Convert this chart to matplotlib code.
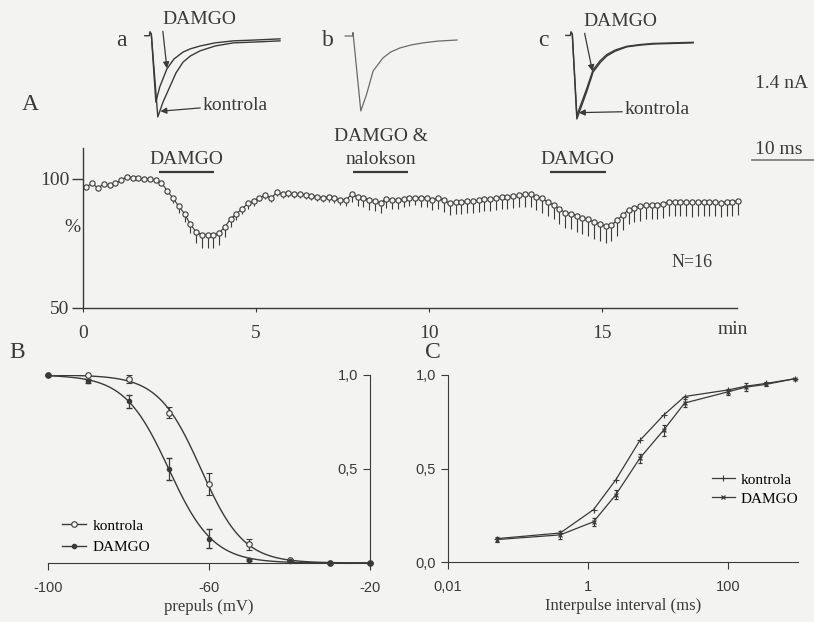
import numpy as np
import matplotlib.pyplot as plt
from matplotlib.lines import Line2D

plt.rcParams['font.family'] = ['Liberation Serif', 'DejaVu Serif']

W, H = 814, 622
INK = '#3a3a3a'
BG = '#f3f3f1'

# ==============================================================================
# DATA
# ==============================================================================
# A (top): example currents, time in ms, current in nA
trace_a_ctrl_t = [-0.8, -0.1, 0.0, 0.2, 1.2, 2.0, 3.1, 4.0, 5.1, 6.2, 7.7, 10.0, 12.8, 16.2, 20.0]
trace_a_ctrl_i = [-0.06, -0.06, 0.08, 0.0, -2.9, -2.38, -1.82, -1.36, -0.98, -0.77, -0.59, -0.42, -0.31, -0.28, -0.24]
trace_a_damgo_t = [0.2, 0.9, 1.5, 2.6, 3.7, 5.1, 6.2, 7.7, 10.0, 12.8, 16.2, 20.0]
trace_a_damgo_i = [0.0, -2.38, -1.85, -1.22, -0.87, -0.63, -0.52, -0.42, -0.31, -0.24, -0.21, -0.17]

trace_b_t = [-1.2, -0.1, 0.0, 1.2, 2.1, 3.1, 4.6, 5.8, 7.2, 9.0, 10.8, 13.0, 16.0]
trace_b_i = [-0.07, -0.07, 0.05, -2.69, -2.10, -1.29, -0.84, -0.63, -0.49, -0.38, -0.31, -0.25, -0.21]

trace_c_ctrl_t = [-0.8, -0.1, 0.0, 0.2, 0.9, 2.4, 3.4, 4.5, 5.5, 6.8, 8.6, 10.6, 12.6, 18.8]
trace_c_ctrl_i = [-0.05, -0.05, 0.08, 0.0, -2.97, -2.03, -1.33, -1.0, -0.77, -0.60, -0.45, -0.39, -0.35, -0.31]
trace_c_damgo_t = [0.2, 0.9, 2.4, 3.4, 4.5, 5.5, 6.8, 8.6, 10.6, 12.6, 18.8]
trace_c_damgo_i = [0.0, -2.85, -1.92, -1.25, -0.93, -0.72, -0.56, -0.43, -0.37, -0.33, -0.29]

# A (bottom): amplitude time course, one point every 10 s starting at 0.1 min
t0_min = 0.1
dt_min = 1 / 6
amp_pct = [
    97.0, 98.3, 96.4, 98.2, 97.5, 98.3,
    99.6, 100.8, 100.5, 100.2, 100.0, 100.0,
    99.6, 98.5, 95.5, 92.5, 89.5, 86.5,
    82.5, 79.5, 78.3, 78.2, 78.3, 79.0,
    81.5, 84.5, 86.5, 88.5, 90.5, 91.5,
    92.8, 93.8, 92.5, 94.8, 94.0, 94.5,
    94.0, 94.2, 93.8, 93.5, 93.1, 92.8,
    93.0, 92.5, 91.8, 92.0, 94.0, 93.0,
    92.5, 91.8, 91.5, 90.8, 92.4, 91.8,
    91.8, 92.1, 92.5, 92.8, 92.8, 92.8,
    91.8, 92.5, 91.8, 90.5, 91.0, 91.0,
    91.4, 91.4, 91.8, 92.1, 92.1, 92.5,
    92.9, 92.9, 93.3, 93.6, 94.1, 94.0,
    93.0, 92.5, 91.0, 89.9, 88.4, 87.0,
    86.5, 85.8, 85.0, 84.3, 83.3, 82.5,
    81.8, 82.0, 84.0, 86.1, 88.0, 88.9,
    89.4, 89.8, 90.0, 90.0, 90.3, 91.2,
    91.0, 91.0, 91.0, 90.9, 91.0, 91.2,
    91.0, 91.0, 90.8, 91.0, 91.2, 91.5,
]
amp_err = [
    0.3, 0.3, 0.3, 0.3, 0.3, 0.3,
    0.3, 0.3, 0.3, 0.3, 0.3, 0.3,
    0.5, 1.0, 1.5, 2.0, 2.5, 3.0,
    3.5, 4.5, 5.0, 5.0, 5.0, 4.5,
    4.0, 3.0, 2.5, 2.0, 2.0, 1.8,
    1.5, 1.5, 1.5, 1.5, 1.5, 1.5,
    1.5, 1.5, 1.5, 1.5, 1.5, 1.8,
    1.8, 2.0, 2.0, 2.5, 3.0, 3.5,
    3.5, 4.0, 4.0, 4.0, 3.5, 3.5,
    3.5, 3.0, 3.0, 3.0, 3.5, 3.5,
    4.0, 4.0, 4.5, 4.5, 4.5, 4.5,
    4.5, 4.5, 4.5, 4.5, 4.5, 4.5,
    4.5, 4.5, 4.5, 4.5, 5.0, 5.0,
    5.0, 5.5, 5.5, 5.5, 6.0, 6.0,
    6.0, 6.5, 6.5, 6.5, 6.5, 6.5,
    6.5, 6.0, 6.0, 6.0, 5.5, 5.5,
    5.5, 5.5, 5.5, 5.5, 5.5, 5.5,
    5.5, 5.5, 5.5, 5.5, 5.5, 5.5,
    5.5, 5.5, 5.5, 5.5, 5.5, 5.5,
]
drug_labels = ['DAMGO', 'DAMGO &\nnalokson', 'DAMGO']
drug_start = [2.2, 7.8, 13.5]
drug_end = [3.8, 9.4, 15.1]

# B: steady-state inactivation
prepulse_mv = [-100, -90, -80, -70, -60, -50, -40, -30, -20]
inact_ctrl = [1.0, 1.0, 0.98, 0.80, 0.42, 0.10, 0.015, 0.0, 0.0]
inact_ctrl_err = [0, 0, 0.02, 0.03, 0.06, 0.03, 0.005, 0, 0]
inact_damgo = [1.0, 0.97, 0.86, 0.50, 0.13, 0.015, 0.01, 0.0, 0.0]
inact_damgo_err = [0, 0.01, 0.035, 0.06, 0.05, 0.005, 0, 0, 0]
# Boltzmann fit parameters (V1/2, slope)
fit_ctrl = (-62.0, 5.3)
fit_damgo = (-70.0, 5.5)

# C: recovery from inactivation
interval_ms = [0.05, 0.4, 1.2, 2.5, 5.5, 12, 24, 100, 180, 350, 900]
recov_ctrl = [0.125, 0.155, 0.28, 0.44, 0.65, 0.785, 0.885, 0.92, 0.94, 0.955, 0.98]
recov_damgo = [0.12, 0.145, 0.215, 0.36, 0.555, 0.705, 0.85, 0.91, 0.935, 0.95, 0.98]
recov_damgo_err = [0.012, 0.02, 0.02, 0.025, 0.025, 0.03, 0.02, 0.015, 0.02, 0.01, 0.0]


# ==============================================================================
# HELPERS
# ==============================================================================
def add_ax(left, top, right, bottom):
    # box given in image pixels (origin top-left)
    return fig.add_axes([left / W, 1 - bottom / H, (right - left) / W, (bottom - top) / H])


def ftext(x, y, s, **kw):
    fig.text(x / W, 1 - y / H, s, **kw)


fig = plt.figure(figsize=(W / 100, H / 100), dpi=100, facecolor=BG)

# ==============================================================================
# A: CURRENT TRACES
# ==============================================================================
PX_MS = 6.5
PX_NA = 28.6


def trace_ax(x0, y0):
    ax = add_ax(x0 - 2 * PX_MS, y0 - 0.5 * PX_NA, x0 + 21 * PX_MS, y0 + 3.3 * PX_NA)
    ax.set_xlim(-2, 21)
    ax.set_ylim(-3.3, 0.5)
    ax.axis('off')
    ax.patch.set_alpha(0)
    return ax


arrow = dict(arrowstyle='-|>', lw=0.9, color=INK, shrinkA=0, shrinkB=0,
             mutation_scale=9, relpos=(0, 0.3))

ax_a = trace_ax(150, 34)
ax_a.plot(trace_a_ctrl_t, trace_a_ctrl_i, color=INK, lw=1.0)
ax_a.plot(trace_a_damgo_t, trace_a_damgo_i, color=INK, lw=1.0)
ax_a.annotate('DAMGO', xy=(2.6, -1.2), xytext=(162, H - 20), textcoords='figure pixels',
              fontsize=14, ha='left', va='center', color=INK, arrowprops=arrow)
ax_a.annotate('kontrola', xy=(1.6, -2.7), xytext=(203, H - 106), textcoords='figure pixels',
              fontsize=14, ha='left', va='center', color=INK,
              arrowprops=dict(arrow, relpos=(0, 0.4)))

ax_b = trace_ax(353, 34)
ax_b.plot(trace_b_t, trace_b_i, color='#6a6a6a', lw=0.9)

ax_c = trace_ax(571, 34)
ax_c.plot(trace_c_ctrl_t, trace_c_ctrl_i, color=INK, lw=1.0)
ax_c.plot(trace_c_damgo_t, trace_c_damgo_i, color=INK, lw=1.0)
ax_c.annotate('DAMGO', xy=(3.3, -1.3), xytext=(583, H - 22), textcoords='figure pixels',
              fontsize=14, ha='left', va='center', color=INK, arrowprops=arrow)
ax_c.annotate('kontrola', xy=(1.2, -2.75), xytext=(625, H - 110), textcoords='figure pixels',
              fontsize=14, ha='left', va='center', color=INK,
              arrowprops=dict(arrow, relpos=(0, 0.4)))

for s, x in [('a', 121), ('b', 328), ('c', 543)]:
    ftext(x, 40, s, fontsize=17, ha='center', va='center', color=INK)

ftext(782, 84, '1.4 nA', fontsize=14, ha='center', va='center', color=INK)
ftext(779, 150, '10 ms', fontsize=14, ha='center', va='center', color=INK)
fig.add_artist(Line2D([752 / W, 1.0], [1 - 160 / H, 1 - 160 / H], color='#777', lw=1.2))

# ==============================================================================
# A: TIME COURSE
# ==============================================================================
axA = add_ax(83, 148, 737, 308)
t_min = t0_min + np.arange(len(amp_pct)) * dt_min
amp = np.array(amp_pct)
err = np.array(amp_err)
axA.errorbar(t_min, amp, yerr=[err, np.zeros_like(err)], fmt='none',
             ecolor=INK, elinewidth=0.8, capsize=0, clip_on=False)
axA.plot(t_min, amp, '-o', color=INK, lw=0.8, ms=3.8, mfc=BG, mec=INK, mew=0.8,
         clip_on=False)
axA.set_xlim(0, 18.9)
axA.set_ylim(50, 112)
for side in ['top', 'right']:
    axA.spines[side].set_visible(False)
for side in ['left', 'bottom']:
    axA.spines[side].set_color(INK)
    axA.spines[side].set_linewidth(1.0)
axA.set_yticks([50, 100])
axA.set_yticklabels(['50', '100'], fontsize=14, color=INK)
axA.tick_params(axis='y', length=8, width=1.0, color=INK, pad=2)
axA.set_xticks([0, 5, 10, 15])
axA.set_xticklabels(['0', '5', '10', '15'], fontsize=14, color=INK)
axA.tick_params(axis='x', length=3, width=0.8, color=INK, pad=9)
axA.patch.set_alpha(0)

for lab, a, b in zip(drug_labels, drug_start, drug_end):
    axA.hlines(102.7, a, b, color=INK, lw=1.6, clip_on=False)
    axA.annotate(lab, xy=((a + b) / 2, 102.7), xytext=(0, 3), textcoords='offset points',
                 ha='center', va='bottom', fontsize=14, color=INK, linespacing=1.45,
                 annotation_clip=False)

axA.text(17.6, 67.8, 'N=16', fontsize=13, ha='center', va='center', color=INK)
ftext(72, 228, '%', fontsize=14, ha='center', va='center', color=INK)
ftext(733, 330, 'min', fontsize=14, ha='center', va='center', color=INK)
ftext(30, 105, 'A', fontsize=17, ha='center', va='center', color=INK)

# ==============================================================================
# B: INACTIVATION
# ==============================================================================
SANS = ['Liberation Sans', 'DejaVu Sans']
axB = add_ax(48, 375, 370, 563)
v = np.linspace(-100, -20, 300)
for (vh, k) in [fit_ctrl, fit_damgo]:
    axB.plot(v, 1 / (1 + np.exp((v - vh) / k)), color=INK, lw=1.0)
axB.errorbar(prepulse_mv, inact_ctrl, yerr=inact_ctrl_err, fmt='o', ms=4, mfc=BG, mec=INK,
             mew=0.8, ecolor=INK, elinewidth=0.9, capsize=2.5, clip_on=False)
axB.errorbar(prepulse_mv, inact_damgo, yerr=inact_damgo_err, fmt='o', ms=3, mfc=INK, mec=INK,
             ecolor=INK, elinewidth=0.9, capsize=2.5, clip_on=False)
axB.set_xlim(-100, -20)
axB.set_ylim(0, 1.0)
axB.spines['left'].set_position(('data', -20))
for side in ['top', 'right']:
    axB.spines[side].set_visible(False)
for side in ['left', 'bottom']:
    axB.spines[side].set_color(INK)
axB.set_yticks([0.5, 1.0])
axB.set_yticklabels(['0,5', '1,0'], fontsize=10.5, family=SANS, color=INK)
axB.set_xticks([-100, -60, -20])
axB.set_xticklabels(['-100', '-60', '-20'], fontsize=10.5, family=SANS, color=INK)
axB.tick_params(length=5, width=0.8, color=INK)
axB.tick_params(axis='x', pad=8)
axB.set_xlabel('prepuls (mV)', fontsize=12, color=INK, labelpad=3)
axB.patch.set_alpha(0)
hB = [Line2D([], [], color=INK, lw=1.0, marker='o', ms=4, mfc=BG, mec=INK, mew=0.8),
      Line2D([], [], color=INK, lw=1.0, marker='o', ms=3, mfc=INK, mec=INK)]
axB.legend(hB, ['kontrola', 'DAMGO'], loc='upper left', bbox_to_anchor=(62 / W, 1 - 519 / H),
           bbox_transform=fig.transFigure, frameon=False, fontsize=11, handlelength=1.6,
           handletextpad=0.4, labelspacing=0.5, borderpad=0, borderaxespad=0)
ftext(17, 352, 'B', fontsize=17, ha='center', va='center', color=INK)

# ==============================================================================
# C: RECOVERY
# ==============================================================================
axC = add_ax(448, 375, 798, 562)
axC.plot(interval_ms, recov_ctrl, color=INK, lw=0.9, marker='+', ms=4, mew=0.8)
axC.errorbar(interval_ms, recov_damgo, yerr=recov_damgo_err, color=INK, lw=0.9, marker='x',
             ms=3.5, mew=0.9, ecolor=INK, elinewidth=0.8, capsize=1.5)
axC.set_xscale('log')
axC.set_xlim(0.01, 1000)
axC.set_ylim(0, 1.0)
for side in ['top', 'right']:
    axC.spines[side].set_visible(False)
for side in ['left', 'bottom']:
    axC.spines[side].set_color(INK)
axC.set_xticks([0.01, 1, 100])
axC.set_xticklabels(['0,01', '1', '100'], fontsize=10.5, family=SANS, color=INK)
axC.xaxis.set_minor_locator(plt.NullLocator())
axC.set_yticks([0, 0.5, 1.0])
axC.set_yticklabels(['0,0', '0,5', '1,0'], fontsize=10.5, family=SANS, color=INK)
axC.tick_params(length=5, width=0.8, color=INK)
axC.tick_params(axis='x', pad=8)
axC.set_xlabel('Interpulse interval (ms)', fontsize=12, color=INK, labelpad=3)
axC.patch.set_alpha(0)
hC = [Line2D([], [], color=INK, lw=0.9, marker='+', ms=4, mew=0.8),
      Line2D([], [], color=INK, lw=0.9, marker='x', ms=3.5, mew=0.9)]
axC.legend(hC, ['kontrola', 'DAMGO'], loc='upper left', bbox_to_anchor=(712 / W, 1 - 473 / H),
           bbox_transform=fig.transFigure, frameon=False, fontsize=11, handlelength=1.5,
           handletextpad=0.4, labelspacing=0.35, borderpad=0, borderaxespad=0)
ftext(433, 352, 'C', fontsize=17, ha='center', va='center', color=INK)

fig.savefig('out.png', dpi=100, facecolor=BG)
